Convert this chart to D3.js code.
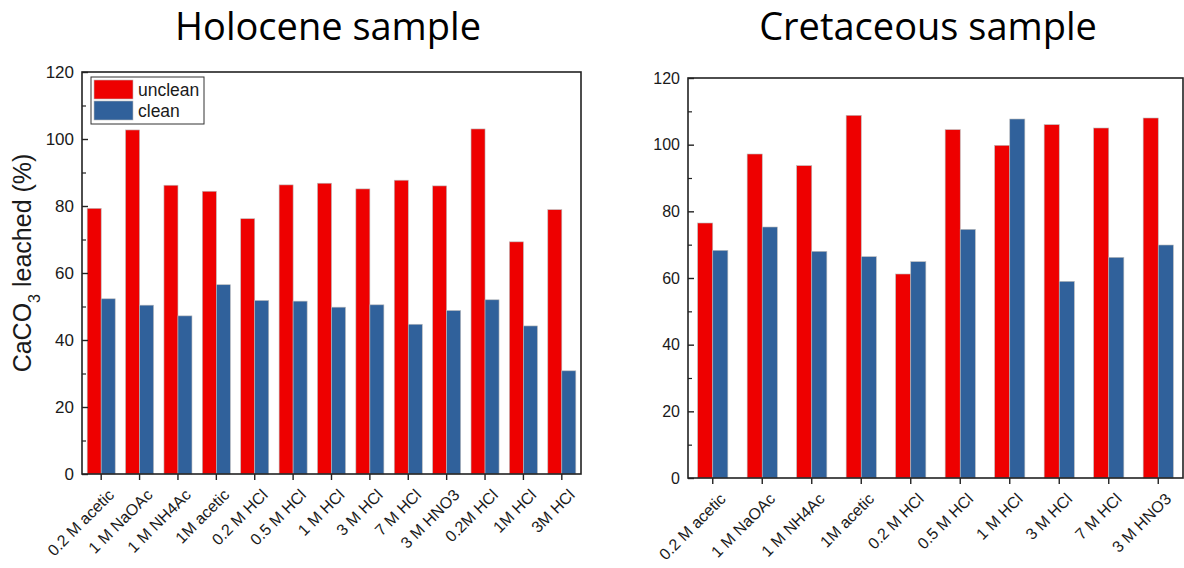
<!DOCTYPE html>
<html>
<head>
<meta charset="utf-8">
<script src="https://cdn.jsdelivr.net/npm/d3@7"></script>
<style>
  body { margin: 0; background: #fff; }
  text { font-family: "Liberation Sans", Arial, sans-serif; fill: #1a1a1a; }
  .title { font-family: "Open Sans", sans-serif; font-size: 38px; fill: #000; }
</style>
</head>
<body>
<div id="chart"></div>
<script>
// data
let holoCats = ['0.2 M acetic', '1 M NaOAc', '1 M NH4Ac', '1M acetic', '0.2 M HCl', '0.5 M HCl',
  '1 M HCl', '3 M HCl', '7 M HCl', '3 M HNO3', '0.2M HCl', '1M HCl', '3M HCl'];
let holoUnclean = [79.3, 102.7, 86.2, 84.4, 76.2, 86.3, 86.8, 85.1, 87.7, 86.0, 103.0, 69.3, 78.9];
let holoClean = [52.3, 50.4, 47.2, 56.5, 51.8, 51.6, 49.8, 50.5, 44.7, 48.8, 52.0, 44.2, 30.8];

let cretCats = ['0.2 M acetic', '1 M NaOAc', '1 M NH4Ac', '1M acetic', '0.2 M HCl', '0.5 M HCl',
  '1 M HCl', '3 M HCl', '7 M HCl', '3 M HNO3'];
let cretUnclean = [76.5, 97.2, 93.7, 108.8, 61.2, 104.5, 99.8, 106.0, 105.0, 108.0];
let cretClean = [68.3, 75.3, 68.0, 66.4, 64.9, 74.6, 107.7, 59.0, 66.2, 69.9];

let seriesNames = ['unclean', 'clean'];
let yTicks = [0, 20, 40, 60, 80, 100, 120];

let colors = { unclean: '#ee0000', clean: '#30619b' };

const svg = d3.select('#chart').append('svg')
  .attr('width', 1184)
  .attr('height', 568);

let drawPanel = (cfg) => {
  let rows = cfg.cats.map((c, i) => ({ cat: c, unclean: cfg.unclean[i], clean: cfg.clean[i] }));

  let x = d3.scaleBand()
    .domain(cfg.cats)
    .range([cfg.left, cfg.right])
    .paddingInner(cfg.pad)
    .paddingOuter(cfg.pad / 2);

  let x1 = d3.scaleBand().domain(seriesNames).range([0, x.bandwidth()]);

  let y = d3.scaleLinear().domain([0, 120]).range([cfg.bottom, cfg.top]);

  let g = svg.append('g');

  // bars
  g.append('g')
    .selectAll('g')
    .data(rows)
    .join('g')
    .attr('transform', (d) => `translate(${x(d.cat)},0)`)
    .selectAll('rect')
    .data((d) => seriesNames.map((k) => ({ key: k, value: d[k] })))
    .join('rect')
    .attr('x', (d) => x1(d.key))
    .attr('y', (d) => y(d.value))
    .attr('width', x1.bandwidth())
    .attr('height', (d) => y(0) - y(d.value))
    .style('fill', (d) => colors[d.key])
    .style('stroke', '#bbb')
    .style('stroke-width', 0.6);

  // frame
  g.append('rect')
    .attr('x', cfg.left)
    .attr('y', cfg.top)
    .attr('width', cfg.right - cfg.left)
    .attr('height', cfg.bottom - cfg.top)
    .attr('fill', 'none')
    .attr('stroke', '#222')
    .attr('stroke-width', 1.6);

  // y axis, ticks inside
  let yAxis = g.append('g')
    .attr('transform', `translate(${cfg.left},0)`)
    .call(d3.axisRight(y).tickValues(yTicks).tickSize(6).tickFormat(''));
  yAxis.select('.domain').remove();
  yAxis.selectAll('line').attr('stroke', '#222').attr('stroke-width', 1.4);

  // minor ticks
  g.append('g')
    .attr('transform', `translate(${cfg.left},0)`)
    .call(d3.axisRight(y).tickValues(d3.range(10, 120, 20)).tickSize(4).tickFormat(''))
    .call((a) => a.select('.domain').remove())
    .selectAll('line').attr('stroke', '#222').attr('stroke-width', 1.2);

  g.append('g')
    .selectAll('text')
    .data(yTicks)
    .join('text')
    .attr('x', cfg.left - 8)
    .attr('y', (d) => y(d))
    .attr('dy', '0.36em')
    .attr('text-anchor', 'end')
    .style('font-size', cfg.tickFont)
    .text((d) => d);

  // x axis, ticks outside
  let xAxis = g.append('g')
    .attr('transform', `translate(0,${cfg.bottom})`)
    .call(d3.axisBottom(x).tickSize(6).tickSizeOuter(0).tickFormat(''));
  xAxis.select('.domain').remove();
  xAxis.selectAll('line').attr('stroke', '#222').attr('stroke-width', 1.4);

  g.append('g')
    .selectAll('text')
    .data(cfg.cats)
    .join('text')
    .attr('transform', (d) => `translate(${x(d) + x.bandwidth() / 2 + 10},${cfg.bottom + 18}) rotate(-45)`)
    .attr('text-anchor', 'end')
    .attr('dy', '0.35em')
    .style('font-size', cfg.labelFont)
    .text((d) => d);

  // title
  svg.append('text')
    .attr('class', 'title')
    .attr('x', cfg.titleX)
    .attr('y', 40)
    .attr('text-anchor', 'middle')
    .text(cfg.title);

  return { x, y };
};

drawPanel({
  cats: holoCats, unclean: holoUnclean, clean: holoClean,
  left: 82, right: 581, top: 72, bottom: 474, pad: 0.27,
  title: 'Holocene sample', titleX: 328, tickFont: '17px', labelFont: '16px'
});

drawPanel({
  cats: cretCats, unclean: cretUnclean, clean: cretClean,
  left: 688, right: 1183, top: 78, bottom: 478, pad: 0.39,
  title: 'Cretaceous sample', titleX: 928, tickFont: '16px', labelFont: '16px'
});

// y axis label
let yl = svg.append('text')
  .attr('transform', 'translate(31,263) rotate(-90)')
  .attr('text-anchor', 'middle')
  .style('font-size', '25px');
yl.append('tspan').text('CaCO');
yl.append('tspan').text('3').attr('baseline-shift', 'sub').style('font-size', '16px');
yl.append('tspan').text(' leached (%)');

// legend
let legend = svg.append('g');
legend.append('rect')
  .attr('x', 91).attr('y', 77).attr('width', 113).attr('height', 47)
  .attr('fill', '#fff').attr('stroke', '#333').attr('stroke-width', 1);
legend.selectAll('.sw')
  .data(seriesNames)
  .join('rect')
  .attr('x', 94)
  .attr('y', (d, i) => 80 + i * 21)
  .attr('width', 39)
  .attr('height', 19)
  .style('fill', (d) => colors[d])
  .style('stroke', '#bbb')
  .style('stroke-width', 0.6);
legend.selectAll('.lt')
  .data(seriesNames)
  .join('text')
  .attr('x', 138)
  .attr('y', (d, i) => 90 + i * 21)
  .attr('dy', '0.36em')
  .style('font-size', '17.5px')
  .text((d) => d);
</script>
</body>
</html>
